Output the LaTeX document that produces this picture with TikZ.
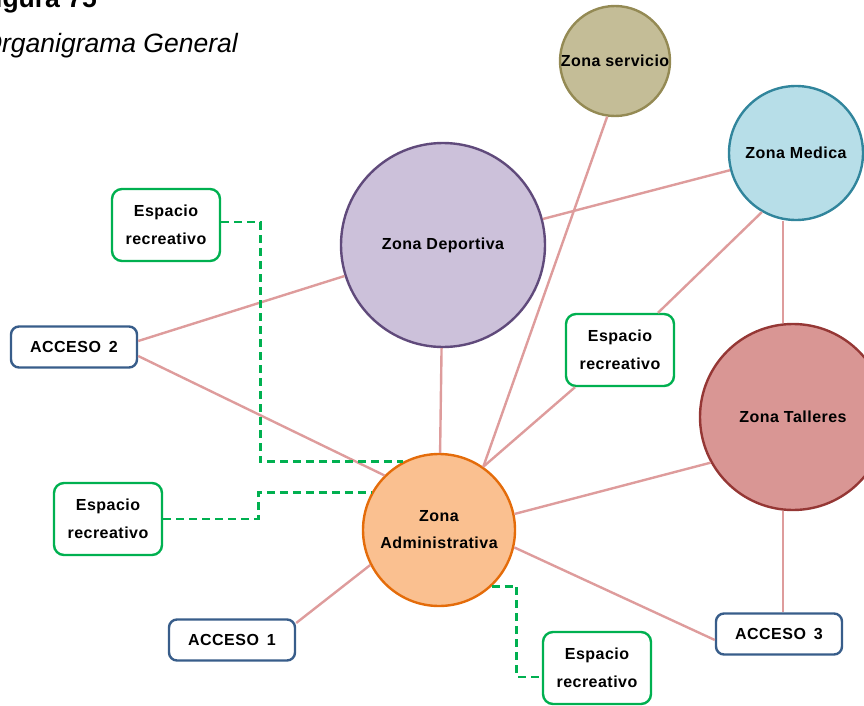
\documentclass[tikz,border=0pt]{standalone}
\usepackage{fontspec}
\setmainfont{Liberation Sans}
\newfontfamily\chartfont[LetterSpace=3]{Liberation Sans}
\definecolor{servfill}{HTML}{C4BD97}
\definecolor{servline}{HTML}{948A54}
\definecolor{medfill}{HTML}{B7DEE8}
\definecolor{medline}{HTML}{31859C}
\definecolor{depfill}{HTML}{CCC1DA}
\definecolor{depline}{HTML}{604A7B}
\definecolor{talfill}{HTML}{D99694}
\definecolor{talline}{HTML}{953735}
\definecolor{admfill}{HTML}{FAC090}
\definecolor{admline}{HTML}{E46C0A}
\definecolor{accline}{HTML}{385D8A}
\definecolor{recgreen}{HTML}{00B050}
\definecolor{linkpink}{HTML}{DE9C9C}
\begin{document}
\begin{tikzpicture}[x=1pt, y=-1pt,
    zonestyle/.style={circle, line width=2.4pt, inner sep=0pt, align=center,
        font=\chartfont\bfseries\fontsize{16}{27}\selectfont},
    accbox/.style={draw=accline, fill=white, rounded corners=8pt, line width=2.4pt,
        minimum width=126pt, minimum height=41pt, font=\chartfont\bfseries\fontsize{16}{27}\selectfont},
    recbox/.style={draw=recgreen, fill=white, rounded corners=10pt, line width=2.4pt,
        minimum width=108pt, minimum height=72pt, align=center,
        font=\chartfont\bfseries\fontsize{16}{28}\selectfont},
    linkstyle/.style={draw=linkpink, line width=2.4pt},
    dashlink/.style={draw=recgreen, line width=2.8pt, dash pattern=on 8pt off 5pt}
]
    \useasboundingbox (0,0) rectangle (864,706);
    % Caption (cut at the page edge)
    \node[anchor=base east, inner sep=0pt, font=\fontsize{26.5}{30}\selectfont\bfseries] (figlabel) at (97,8) {Figura 75};
    \node[anchor=base east, inner sep=0pt, font=\fontsize{26.5}{30}\selectfont\itshape] (figtitle) at (238,53) {Organigrama General};
    % Zones
    \node[zonestyle, fill=servfill, draw=servline, minimum size=110pt] (serv) at (615,61) {Zona servicio};
    \node[zonestyle, fill=medfill, draw=medline, minimum size=134pt] (med) at (796,153) {Zona Medica};
    \node[zonestyle, fill=depfill, draw=depline, minimum size=204pt] (dep) at (443,245) {Zona Deportiva};
    \node[zonestyle, fill=talfill, draw=talline, minimum size=186pt] (tal) at (793,417) {Zona Talleres};
    \node[zonestyle, fill=admfill, draw=admline, minimum size=152pt] (adm) at (439,530) {Zona\\Administrativa};
    % Accesses and recreation spaces
    \node[accbox] (acc1) at (232,640) {ACCESO\enspace 1};
    \node[accbox] (acc2) at (74,347) {ACCESO\enspace 2};
    \node[accbox] (acc3) at (779,634) {ACCESO\enspace 3};
    \node[recbox] (esp1) at (166,225) {Espacio\\recreativo};
    \node[recbox] (esp2) at (108,519) {Espacio\\recreativo};
    \node[recbox] (esp3) at (620,350) {Espacio\\recreativo};
    \node[recbox] (esp4) at (597,668) {Espacio\\recreativo};
    % Solid links
    \draw[linkstyle] ([yshift=6pt]acc2.east) -- (dep);
    \draw[linkstyle] ([yshift=-9pt]acc2.east) -- (adm.135);
    \draw[linkstyle] (dep) -- (adm);
    \draw[linkstyle] (serv.262) -- (adm.55);
    \draw[linkstyle] (med) -- (dep);
    \draw[linkstyle] (med.240) -- ([xshift=38pt]esp3.north);
    \draw[linkstyle] ([xshift=-45pt]esp3.south) -- (adm.55);
    \draw[linkstyle] ([xshift=-10pt]tal.north) -- ([xshift=-10pt]tal.north |- med.south);
    \draw[linkstyle] (tal.209) -- (adm.12);
    \draw[linkstyle] ([xshift=-10pt]tal.south) -- ([xshift=-10pt]tal.south |- acc3.north);
    \draw[linkstyle] (adm.-13) -- ([yshift=-6pt]acc3.west);
    \draw[linkstyle] (adm.207) -- ([yshift=17pt]acc1.east);
    % Dashed links to recreation spaces
    \draw[dashlink] ([yshift=3pt]esp1.east) -- ++(39,0) |- (adm.118);
    \draw[dashlink] (esp2.east) -- ++(95,0) |- (adm.151);
    \draw[dashlink] (adm.-47) -- ++(25,0) |- ([yshift=-9pt]esp4.west);
\end{tikzpicture}
\end{document}
